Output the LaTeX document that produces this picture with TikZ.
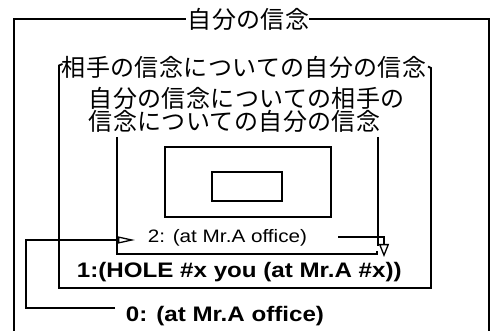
\documentclass[tikz,border=0pt]{standalone}
\usepackage{fontspec}
\setmainfont{Liberation Sans}
\newfontfamily\jfont[LetterSpace=1.5]{Noto Sans CJK JP}
\newfontfamily\lfont[FakeStretch=1.15]{Liberation Sans}
\usetikzlibrary{arrows.meta}
\begin{document}
\begin{tikzpicture}[x=1pt,y=-1pt,line width=1.8pt,line join=miter,
  jp/.style={inner sep=0pt,anchor=west,font=\jfont\fontsize{24}{23}\selectfont},
  lab/.style={inner sep=0pt,anchor=base west,font=\lfont\fontsize{18}{20}\selectfont},
  labb/.style={inner sep=0pt,anchor=base west,font=\lfont\bfseries\fontsize{21}{24}\selectfont},
  boxr/.style={draw,inner sep=0pt},
  tipr/.style={-{Triangle[open,length=17pt,width=7pt,line width=1.3pt]}},
  tipd/.style={-{Triangle[open,length=13pt,width=10pt,line width=1.3pt]}}]
\useasboundingbox (0,0) rectangle (496,331);
% texts
\node[jp] (t0) at (187,19) {自分の信念};
\node[jp] (t1) at (61,67) {相手の信念についての自分の信念};
\node[jp,align=left] (t2) at (88,109.5) {自分の信念についての相手の\\信念についての自分の信念};
\node[lab] (s2) at (147,243) {2: (at Mr.A office)};
\node[labb] (s1) at (76,278) {1:(HOLE \#x you (at Mr.A \#x))};
\node[labb] (s0) at (125,322) {0: (at Mr.A office)};
% outer frame
\coordinate (o1) at (14,331);
\coordinate (o2) at (14,19);
\coordinate (o3) at (489,19);
\coordinate (o4) at (489,331);
\draw (o1) -- (o2) -- ([xshift=-1pt]t0.west);
\draw ([xshift=-1pt]t0.east) -- (o3) -- (o4);
% box 2
\coordinate (b2a) at (62.5,64);
\coordinate (b2b) at (59,65.5);
\coordinate (b2c) at (59,288);
\coordinate (b2d) at (431,288);
\coordinate (b2e) at (431,68);
\coordinate (b2f) at (428,66.5);
\draw (b2a) -- (b2b) -- (b2c) -- (b2d) -- (b2e) -- (b2f);
% box 3
\coordinate (b3a) at (117,137);
\coordinate (b3b) at (117,254);
\coordinate (b3c) at (377,254);
\coordinate (b3d) at (377,251);
\coordinate (b3e) at (378,137);
\coordinate (b3f) at (378,246);
\draw (b3a) -- (b3b) -- (b3c) -- (b3d);
\draw (b3e) -- (b3f);
% inner rectangles
\node[boxr,minimum width=166pt,minimum height=70pt] (r4) at (248,182) {};
\node[boxr,minimum width=70pt,minimum height=29pt] (r5) at (247,186.5) {};
% arrows
\coordinate (a0) at (115,308);
\coordinate (a0c) at (26,308);
\coordinate (a0d) at (26,240);
\coordinate (a0t) at (135,240);
\draw[tipr] (a0) -- (a0c) -- (a0d) -- (a0t);
\coordinate (a2) at (338,237);
\coordinate (a2c) at (384,237);
\coordinate (a2t) at (384,257);
\draw[tipd] (a2) -- (a2c) -- (a2t);
\end{tikzpicture}
\end{document}
